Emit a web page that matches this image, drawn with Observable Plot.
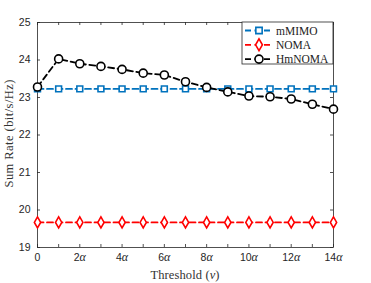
<!DOCTYPE html>
<html><head><meta charset="utf-8">
<script src="https://cdn.jsdelivr.net/npm/d3@7"></script>
<script src="https://cdn.jsdelivr.net/npm/@observablehq/plot@0.6"></script>
<style>body{margin:0;background:#fff}</style>
</head><body><div id="chart"></div>
<script>
const thresholds = [0,1,2,3,4,5,6,7,8,9,10,11,12,13,14];
const mMIMO  = [23.23,23.23,23.23,23.23,23.23,23.23,23.23,23.23,23.23,23.23,23.23,23.23,23.23,23.23,23.23];
const NOMA   = [19.67,19.67,19.67,19.67,19.67,19.67,19.67,19.67,19.67,19.67,19.67,19.67,19.67,19.67,19.67];
const HmNOMA = [23.28,24.03,23.90,23.83,23.75,23.65,23.60,23.42,23.27,23.15,23.04,23.02,22.96,22.82,22.69];
const seriesNames = ["mMIMO","NOMA","HmNOMA"];
const seriesColors = ["#0072BD","#FF0000","#000000"];
const seriesSymbols = ["square","diamond","circle"];
const xTicks = [0,1,2,3,4,5,6,7,8,9,10,11,12,13,14];
const xTickLabels = ["0","","2α","","4α","","6α","","8α","","10α","","12α","","14α"];
const yTicks = [19,20,21,22,23,24,25];
const xLabel = ["Threshold (", "ν", ")"];
const yLabel = "Sum Rate (bit/s/Hz)";

const seriesValues = [mMIMO, NOMA, HmNOMA];
const rows = [];
seriesNames.forEach((s, i) => thresholds.forEach((t, j) => rows.push({series: s, x: t, y: seriesValues[i][j]})));

const W = 371, H = 283, mL = 37, mR = 38, mT = 22, mB = 36;
const innerH = H - mT - mB, innerW = W - mL - mR;
const tickLen = 3;
const axisColor = "#262626";

const marks = [];
seriesNames.forEach((s, i) => {
  const d = rows.filter(r => r.series === s);
  marks.push(Plot.line(d, {x: "x", y: "y", stroke: seriesColors[i], strokeWidth: 1.8, strokeDasharray: "6,3.5"}));
});
seriesNames.forEach((s, i) => {
  const d = rows.filter(r => r.series === s);
  marks.push(Plot.dot(d, {x: "x", y: "y", stroke: seriesColors[i], fill: "white", symbol: seriesSymbols[i], r: i === 2 ? 4 : 3.3, strokeWidth: 1.6}));
});

const chart = Plot.plot({
  width: W, height: H,
  marginLeft: mL, marginRight: mR, marginTop: mT, marginBottom: mB,
  style: {fontFamily: "'Liberation Sans', Arial, sans-serif", fontSize: "10.5px", color: axisColor, background: "white"},
  x: {domain: [0, 14]},
  y: {domain: [19, 25]},
  marks: [
    Plot.frame({stroke: axisColor, strokeWidth: 0.8}),
    Plot.tickX(xTicks, {x: d => d, insetTop: innerH - tickLen, stroke: axisColor, strokeWidth: 0.8}),
    Plot.tickX(xTicks, {x: d => d, insetBottom: innerH - tickLen, stroke: axisColor, strokeWidth: 0.8}),
    Plot.tickY(yTicks, {y: d => d, insetRight: innerW - tickLen, stroke: axisColor, strokeWidth: 0.8}),
    Plot.tickY(yTicks, {y: d => d, insetLeft: innerW - tickLen, stroke: axisColor, strokeWidth: 0.8}),
    ...marks,
    Plot.axisX(xTicks, {tickSize: 0, tickPadding: 6, tickFormat: (d) => xTickLabels[xTicks.indexOf(d)], label: null, fill: axisColor}),
    Plot.axisY(yTicks, {tickSize: 0, tickPadding: 7, label: null, fill: axisColor})
  ]
});
document.getElementById("chart").appendChild(chart);

const svg = d3.select(chart);
// italic serif alpha in tick labels
svg.selectAll("text").each(function() {
  const t = d3.select(this);
  const tspans = t.selectAll("tspan");
  const el = tspans.empty() ? this : tspans.node();
  const s = el.textContent;
  if (s && s.endsWith("α")) {
    const sel = d3.select(el);
    sel.text(null);
    sel.append("tspan").text(s.slice(0, -1));
    sel.append("tspan").attr("font-family", "'Liberation Serif', serif").attr("font-style", "italic").attr("font-size", "12px").text("α");
  }
});

const serif = "'Liberation Serif', 'Times New Roman', serif";
const xl = svg.append("text").attr("x", mL + innerW / 2).attr("y", 279)
  .attr("text-anchor", "middle").attr("font-family", serif).attr("font-size", "12.5px").attr("fill", "#333")
  .attr("textLength", 69).attr("lengthAdjust", "spacing");
xl.append("tspan").text(xLabel[0]);
xl.append("tspan").attr("font-style", "italic").text(xLabel[1]);
xl.append("tspan").text(xLabel[2]);

svg.append("text").attr("transform", `translate(13,${mT + innerH / 2 - 1}) rotate(-90)`)
  .attr("text-anchor", "middle").attr("font-family", serif).attr("font-size", "12.5px").attr("fill", "#333")
  .attr("textLength", 108).attr("lengthAdjust", "spacing").text(yLabel);

// legend
const lg = svg.append("g");
const bx = 242, by = mT, bw = W - mR - bx, bh = 42;
lg.append("rect").attr("x", bx).attr("y", by).attr("width", bw).attr("height", bh)
  .attr("fill", "white").attr("stroke", axisColor).attr("stroke-width", 0.8);
seriesNames.forEach((s, i) => {
  const cy = by + 8.5 + i * 14.3;
  lg.append("line").attr("x1", bx + 3).attr("x2", bx + 31).attr("y1", cy).attr("y2", cy)
    .attr("stroke", seriesColors[i]).attr("stroke-width", 1.8).attr("stroke-dasharray", "6,3.5");
  const sym = d3.symbol().type(i === 0 ? d3.symbolSquare : i === 1 ? d3.symbolDiamond : d3.symbolCircle)
    .size(i === 2 ? Math.PI * 16 : 40);
  lg.append("path").attr("d", sym()).attr("transform", `translate(${bx + 17},${cy})`)
    .attr("fill", "white").attr("stroke", seriesColors[i]).attr("stroke-width", 1.6);
  lg.append("text").attr("x", bx + 34).attr("y", cy).attr("dy", "0.35em").attr("text-anchor", "start")
    .attr("font-family", serif).attr("font-size", "11.5px").attr("fill", "#222").text(s);
});
</script>
</body></html>
